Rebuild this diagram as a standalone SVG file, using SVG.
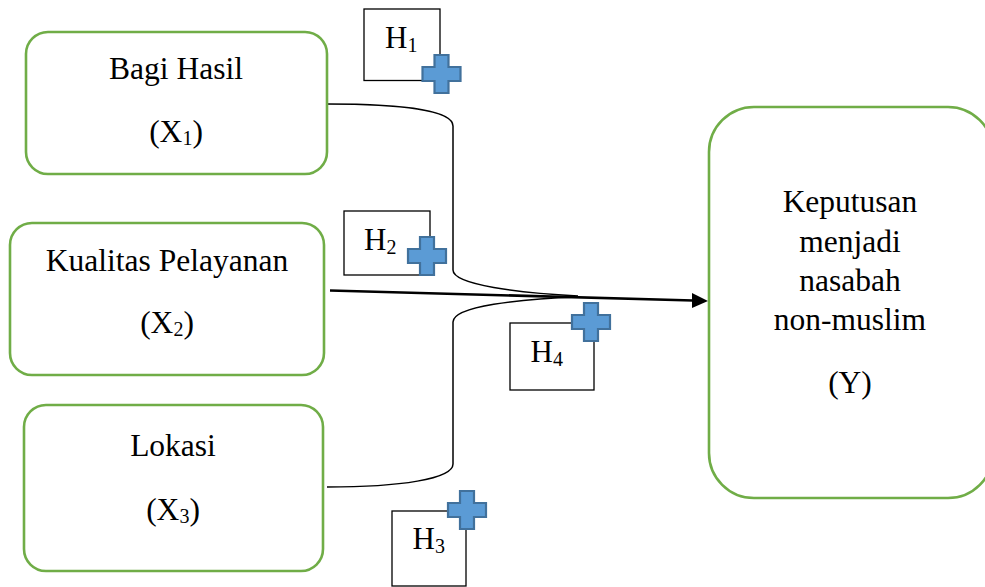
<svg xmlns="http://www.w3.org/2000/svg" width="985" height="587" viewBox="0 0 985 587">
<style>
.box{fill:#fff;stroke:#70AD47;stroke-width:2.6}
.t{font-family:"Liberation Serif","Times New Roman",serif;font-size:31.5px;fill:#000;text-anchor:middle}
.h{font-family:"Liberation Serif","Times New Roman",serif;font-size:31px;fill:#000}
.sub{font-size:20px}
.hb{fill:#fff;stroke:#000;stroke-width:1.3}
.plus{fill:#5B9BD5;stroke:#41719C;stroke-width:2.2}
.br{fill:none;stroke:#000;stroke-width:1.5}
</style>
<defs>
<path id="plus" d="M-7,-19 h14 v12 h12 v14 h-12 v12 h-14 v-12 h-12 v-14 h12 z"/>
</defs>
<rect width="985" height="587" fill="#fff"/>

<g id="connectors">
<path class="br" d="M327,104 C400,104 453,110 453,126 V270 C453,285 520,293 578,296"/>
<path class="br" d="M578,297 C520,299 453,306 453,322 V464 C453,479 400,487 327,487"/>
<line x1="330" y1="290.5" x2="693" y2="300.5" stroke="#000" stroke-width="2.6"/>
<polygon points="708,301 692,293 692,308" fill="#000"/>
</g>

<g id="x1">
<rect class="box" x="26" y="32" width="301" height="142" rx="22"/>
<text class="t" x="176" y="79">Bagi Hasil</text>
<text class="t" x="176" y="142">(X<tspan class="sub" dy="3">1</tspan><tspan dy="-3">)</tspan></text>
</g>

<g id="x2">
<rect class="box" x="10" y="223" width="314" height="152" rx="22"/>
<text class="t" x="167" y="271">Kualitas Pelayanan</text>
<text class="t" x="167" y="333">(X<tspan class="sub" dy="3">2</tspan><tspan dy="-3">)</tspan></text>
</g>

<g id="x3">
<rect class="box" x="24" y="405" width="299" height="166" rx="22"/>
<text class="t" x="173" y="456">Lokasi</text>
<text class="t" x="173" y="520">(X<tspan class="sub" dy="3">3</tspan><tspan dy="-3">)</tspan></text>
</g>

<g id="y">
<rect class="box" x="709" y="107" width="284" height="391" rx="45"/>
<text class="t" x="850" y="212">Keputusan</text>
<text class="t" x="850" y="251.5">menjadi</text>
<text class="t" x="850" y="291">nasabah</text>
<text class="t" x="850" y="330">non-muslim</text>
<text class="t" x="850" y="393">(Y)</text>
</g>

<g id="h1">
<rect class="hb" x="364" y="9" width="76" height="71.5"/>
<text class="h" x="385" y="48">H<tspan class="sub" dy="4">1</tspan></text>
<use href="#plus" class="plus" transform="translate(441.5,74)"/>
</g>

<g id="h2">
<rect class="hb" x="344" y="211" width="86" height="64"/>
<text class="h" x="364" y="250">H<tspan class="sub" dy="4">2</tspan></text>
<use href="#plus" class="plus" transform="translate(427,256)"/>
</g>

<g id="h4">
<rect class="hb" x="510" y="323" width="84" height="67"/>
<text class="h" x="530.5" y="362">H<tspan class="sub" dy="4">4</tspan></text>
<use href="#plus" class="plus" transform="translate(591,322)"/>
</g>

<g id="h3">
<rect class="hb" x="392" y="511" width="74" height="75"/>
<text class="h" x="412.5" y="549">H<tspan class="sub" dy="4">3</tspan></text>
<use href="#plus" class="plus" transform="translate(467,510)"/>
</g>
</svg>
